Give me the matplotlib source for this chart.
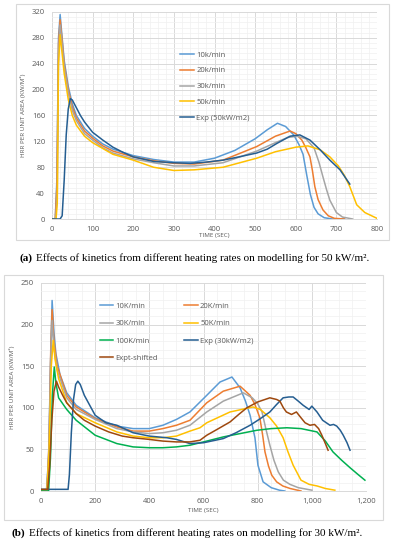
import matplotlib
matplotlib.use("Agg")
import matplotlib.pyplot as plt
from matplotlib.ticker import MultipleLocator, FuncFormatter
from matplotlib.patches import Rectangle

# ---------------- Panel (a) data: 50 kW/m2 ----------------
t_a10 = [0, 8, 12, 16, 20, 25, 30, 40, 50, 60, 80, 100, 125, 150, 200, 250, 300, 350, 400, 450, 500, 530, 555, 575, 595, 608, 618, 627, 636, 645, 655, 670, 690, 720]
v_a10 = [0, 0, 60, 280, 316, 280, 245, 205, 178, 160, 140, 128, 116, 108, 98, 92, 88, 88, 94, 106, 124, 138, 148, 143, 130, 115, 100, 68, 38, 18, 8, 2, 0, 0]
t_a20 = [0, 8, 12, 16, 20, 25, 30, 40, 50, 60, 80, 100, 125, 150, 200, 250, 300, 350, 421, 504, 550, 586, 600, 615, 625, 635, 641, 647, 655, 667, 680, 695, 720]
v_a20 = [0, 0, 50, 270, 308, 275, 240, 200, 173, 156, 136, 125, 113, 105, 96, 90, 86, 85, 91, 112, 128, 136, 132, 122, 110, 96, 75, 50, 30, 14, 5, 1, 0]
t_a30 = [0, 9, 13, 16, 20, 25, 30, 40, 50, 60, 80, 100, 125, 150, 200, 250, 300, 350, 421, 504, 550, 580, 603, 625, 645, 657, 667, 676, 684, 700, 715, 740]
v_a30 = [0, 0, 40, 255, 300, 268, 235, 195, 168, 152, 132, 122, 110, 102, 93, 87, 82, 82, 87, 105, 118, 126, 128, 124, 110, 88, 65, 45, 29, 10, 3, 0]
t_a50 = [0, 10, 13, 16, 20, 25, 30, 40, 50, 60, 80, 100, 150, 200, 250, 300, 350, 421, 504, 550, 600, 630, 660, 684, 705, 720, 733, 750, 770, 790, 800]
v_a50 = [0, 0, 25, 240, 285, 255, 225, 185, 160, 145, 128, 118, 100, 91, 80, 75, 76, 80, 94, 104, 111, 113, 107, 96, 82, 67, 50, 22, 10, 4, 1]
t_aexp = [0, 20, 25, 30, 35, 40, 45, 50, 60, 70, 80, 100, 125, 150, 175, 200, 250, 298, 340, 380, 421, 460, 504, 530, 554, 586, 610, 635, 660, 684, 709, 733]
v_aexp = [0, 0, 5, 60, 130, 170, 186, 184, 172, 160, 150, 134, 122, 111, 103, 96, 89, 87, 86, 88, 91, 96, 102, 108, 117, 128, 130, 122, 107, 91, 76, 54]
labels_a = ["10k/min", "20k/min", "30k/min", "50k/min", "Exp (50kW/m2)"]

# ---------------- Panel (b) data: 30 kW/m2 ----------------
t_b10 = [0, 20, 28, 35, 41, 48, 55, 70, 95, 130, 200, 280, 340, 400, 450, 500, 550, 612, 661, 705, 735, 755, 772, 790, 801, 820, 850, 880, 900]
v_b10 = [0, 0, 40, 150, 229, 190, 165, 140, 118, 103, 88, 78, 75, 75, 79, 86, 95, 115, 131, 137, 124, 108, 91, 64, 31, 11, 4, 1, 0]
t_b20 = [0, 22, 30, 36, 41, 48, 60, 95, 130, 200, 280, 340, 400, 450, 500, 550, 612, 673, 735, 772, 790, 808, 818, 827, 840, 852, 870, 893, 920, 960]
v_b20 = [0, 0, 60, 170, 218, 180, 150, 115, 101, 87, 77, 72, 72, 75, 79, 85, 106, 120, 126, 115, 104, 88, 68, 47, 30, 19, 11, 6, 3, 0]
t_b30 = [0, 22, 30, 36, 41, 48, 60, 95, 130, 200, 280, 340, 400, 450, 500, 550, 612, 673, 747, 780, 800, 816, 830, 845, 860, 876, 895, 919, 950, 1000]
v_b30 = [0, 0, 55, 160, 205, 172, 145, 112, 98, 86, 75, 71, 69, 70, 73, 79, 95, 108, 118, 112, 105, 95, 75, 55, 37, 23, 13, 8, 4, 1]
t_b50 = [0, 22, 30, 38, 45, 52, 65, 95, 130, 200, 280, 340, 400, 450, 500, 550, 587, 612, 698, 783, 810, 845, 870, 894, 912, 931, 960, 990, 1020, 1050, 1085]
v_b50 = [0, 0, 50, 150, 181, 158, 135, 106, 93, 82, 71, 66, 64, 64, 66, 72, 76, 82, 95, 101, 98, 88, 78, 64, 47, 31, 13, 8, 6, 3, 1]
t_b100 = [0, 28, 35, 42, 49, 55, 65, 95, 130, 200, 280, 340, 400, 450, 500, 550, 600, 673, 797, 850, 908, 960, 1019, 1050, 1078, 1110, 1141, 1170, 1196]
v_b100 = [0, 0, 40, 115, 149, 130, 112, 98, 85, 67, 57, 53, 52, 52, 53, 55, 59, 65, 73, 75, 76, 75, 71, 60, 47, 37, 28, 20, 13]
t_bexp = [0, 100, 105, 112, 120, 128, 136, 145, 160, 180, 200, 240, 280, 340, 400, 465, 500, 550, 600, 673, 720, 772, 810, 845, 870, 894, 915, 931, 950, 968, 990, 1000, 1019, 1040, 1067, 1080, 1092, 1105, 1116, 1130, 1141]
v_bexp = [2, 2, 20, 70, 110, 128, 132, 128, 115, 103, 91, 82, 79, 70, 66, 64, 62, 57, 58, 63, 70, 79, 87, 95, 104, 112, 113, 113, 108, 103, 98, 102, 95, 85, 79, 80, 78, 73, 67, 58, 49]
t_bsh = [0, 25, 32, 40, 48, 57, 65, 80, 95, 130, 160, 200, 250, 300, 340, 400, 450, 500, 550, 587, 612, 650, 698, 730, 760, 800, 845, 870, 882, 895, 906, 925, 943, 960, 975, 993, 1010, 1025, 1037, 1050, 1060]
v_bsh = [2, 2, 30, 85, 120, 132, 125, 115, 106, 93, 85, 78, 71, 66, 64, 62, 60, 59, 59, 61, 67, 74, 83, 92, 100, 107, 112, 110, 108, 100, 95, 92, 95, 88, 82, 79, 80, 75, 67, 57, 49]
labels_b = ["10K/min", "20K/min", "30K/min", "50K/min", "100K/min", "Exp (30kW/m2)", "Expt-shifted"]

C10, C20, C30, C50 = "#5B9BD5", "#ED7D31", "#A5A5A5", "#FFC000"
CEXP, C100, CSH = "#255E91", "#00B050", "#9E480E"

W, H = 393, 550
fig = plt.figure(figsize=(W / 100, H / 100), dpi=100)
plt.rcParams['font.family'] = ['Open Sans', 'DejaVu Sans']
TXT = "#595959"

def frac_box(x0, y0, x1, y1):
    return [x0 / W, 1 - y1 / H, (x1 - x0) / W, (y1 - y0) / H]

def style(ax, xmaj, xmin, ymaj, ymin, xlim, ylim, fmt=None):
    ax.set_xlim(*xlim)
    ax.set_ylim(*ylim)
    ax.xaxis.set_major_locator(MultipleLocator(xmaj))
    ax.xaxis.set_minor_locator(MultipleLocator(xmin))
    ax.yaxis.set_major_locator(MultipleLocator(ymaj))
    ax.yaxis.set_minor_locator(MultipleLocator(ymin))
    ax.grid(which='major', color='#D9D9D9', lw=0.7)
    ax.grid(which='minor', color='#F0F0F0', lw=0.5)
    ax.set_axisbelow(True)
    for s in ['top', 'right', 'left']:
        ax.spines[s].set_visible(False)
    ax.spines['bottom'].set_color('#D9D9D9')
    ax.spines['bottom'].set_linewidth(0.7)
    ax.tick_params(which='both', length=0, labelsize=5.5, colors=TXT, pad=5)
    if fmt:
        ax.xaxis.set_major_formatter(FuncFormatter(fmt))

# outer chart boxes
for (x0, y0, x1, y1) in [(16, 4, 389, 240), (4, 275, 383, 520)]:
    fig.patches.append(Rectangle((x0 / W, 1 - y1 / H), (x1 - x0) / W, (y1 - y0) / H,
                                 transform=fig.transFigure, fill=False, ec='#D9D9D9', lw=0.8))

# ---------- Panel (a) ----------
ax1 = fig.add_axes(frac_box(52, 12, 377, 219))
style(ax1, 100, 20, 40, 8, (0, 800), (0, 320))
lw = 1.1
ax1.plot(t_a10, v_a10, color=C10, lw=lw, label=labels_a[0])
ax1.plot(t_a20, v_a20, color=C20, lw=lw, label=labels_a[1])
ax1.plot(t_a30, v_a30, color=C30, lw=lw, label=labels_a[2])
ax1.plot(t_a50, v_a50, color=C50, lw=lw, label=labels_a[3])
ax1.plot(t_aexp, v_aexp, color=CEXP, lw=lw, label=labels_a[4])
ax1.set_xlabel("TIME (SEC)", fontsize=4.5, color=TXT, labelpad=0)
ax1.set_ylabel("HRR PER UNIT AREA (KW/M²)", fontsize=4.5, color=TXT, labelpad=4)
leg = ax1.legend(loc='upper left', bbox_to_anchor=(0.395, 0.81), frameon=False,
                 fontsize=5.5, handlelength=1.8, handletextpad=0.3, labelspacing=1.1,
                 borderpad=0, borderaxespad=0)
for t in leg.get_texts():
    t.set_color(TXT)

# ---------- Panel (b) ----------
ax2 = fig.add_axes(frac_box(41, 283, 366, 491))
style(ax2, 200, 50, 50, 10, (0, 1200), (0, 250), fmt=lambda v, p: f"{int(v):,}")
lines_b = []
lines_b += ax2.plot(t_b10, v_b10, color=C10, lw=lw, label=labels_b[0])
lines_b += ax2.plot(t_b20, v_b20, color=C20, lw=lw, label=labels_b[1])
lines_b += ax2.plot(t_b30, v_b30, color=C30, lw=lw, label=labels_b[2])
lines_b += ax2.plot(t_b50, v_b50, color=C50, lw=lw, label=labels_b[3])
lines_b += ax2.plot(t_b100, v_b100, color=C100, lw=lw, label=labels_b[4])
lines_b += ax2.plot(t_bexp, v_bexp, color=CEXP, lw=lw, label=labels_b[5])
lines_b += ax2.plot(t_bsh, v_bsh, color=CSH, lw=lw, label=labels_b[6])
ax2.set_xlabel("TIME (SEC)", fontsize=4.5, color=TXT, labelpad=2)
ax2.set_ylabel("HRR PER UNIT AREA (KW/M²)", fontsize=4.5, color=TXT, labelpad=4)
# row-major order in a 2-column legend
order = [0, 2, 4, 6, 1, 3, 5]
hs = [lines_b[i] for i in order]
leg2 = ax2.legend(hs, [labels_b[i] for i in order], loc='upper left',
                  bbox_to_anchor=(0.18, 0.905), frameon=False, ncol=2,
                  fontsize=5.5, handlelength=1.8, handletextpad=0.3, labelspacing=1.3,
                  columnspacing=3.4, borderpad=0, borderaxespad=0)
for t in leg2.get_texts():
    t.set_color(TXT)

# ---------- captions ----------
def caption(x, y, tag, rest):
    t1 = fig.text(x / W, 1 - y / H, tag, fontsize=8.0, fontweight='bold',
                  family='Liberation Serif', va='center', ha='left')
    fig.canvas.draw()
    bb = t1.get_window_extent()
    fig.text(bb.x1 / (W) + 3 / W, 1 - y / H, rest, fontsize=8.0,
             family='Liberation Serif', va='center', ha='left')

caption(20, 258, "(a)", "Effects of kinetics from different heating rates on modelling for 50 kW/m².")
caption(12, 533, "(b)", "Effects of kinetics from different heating rates on modelling for 30 kW/m².")

fig.savefig("out.png", dpi=100)
